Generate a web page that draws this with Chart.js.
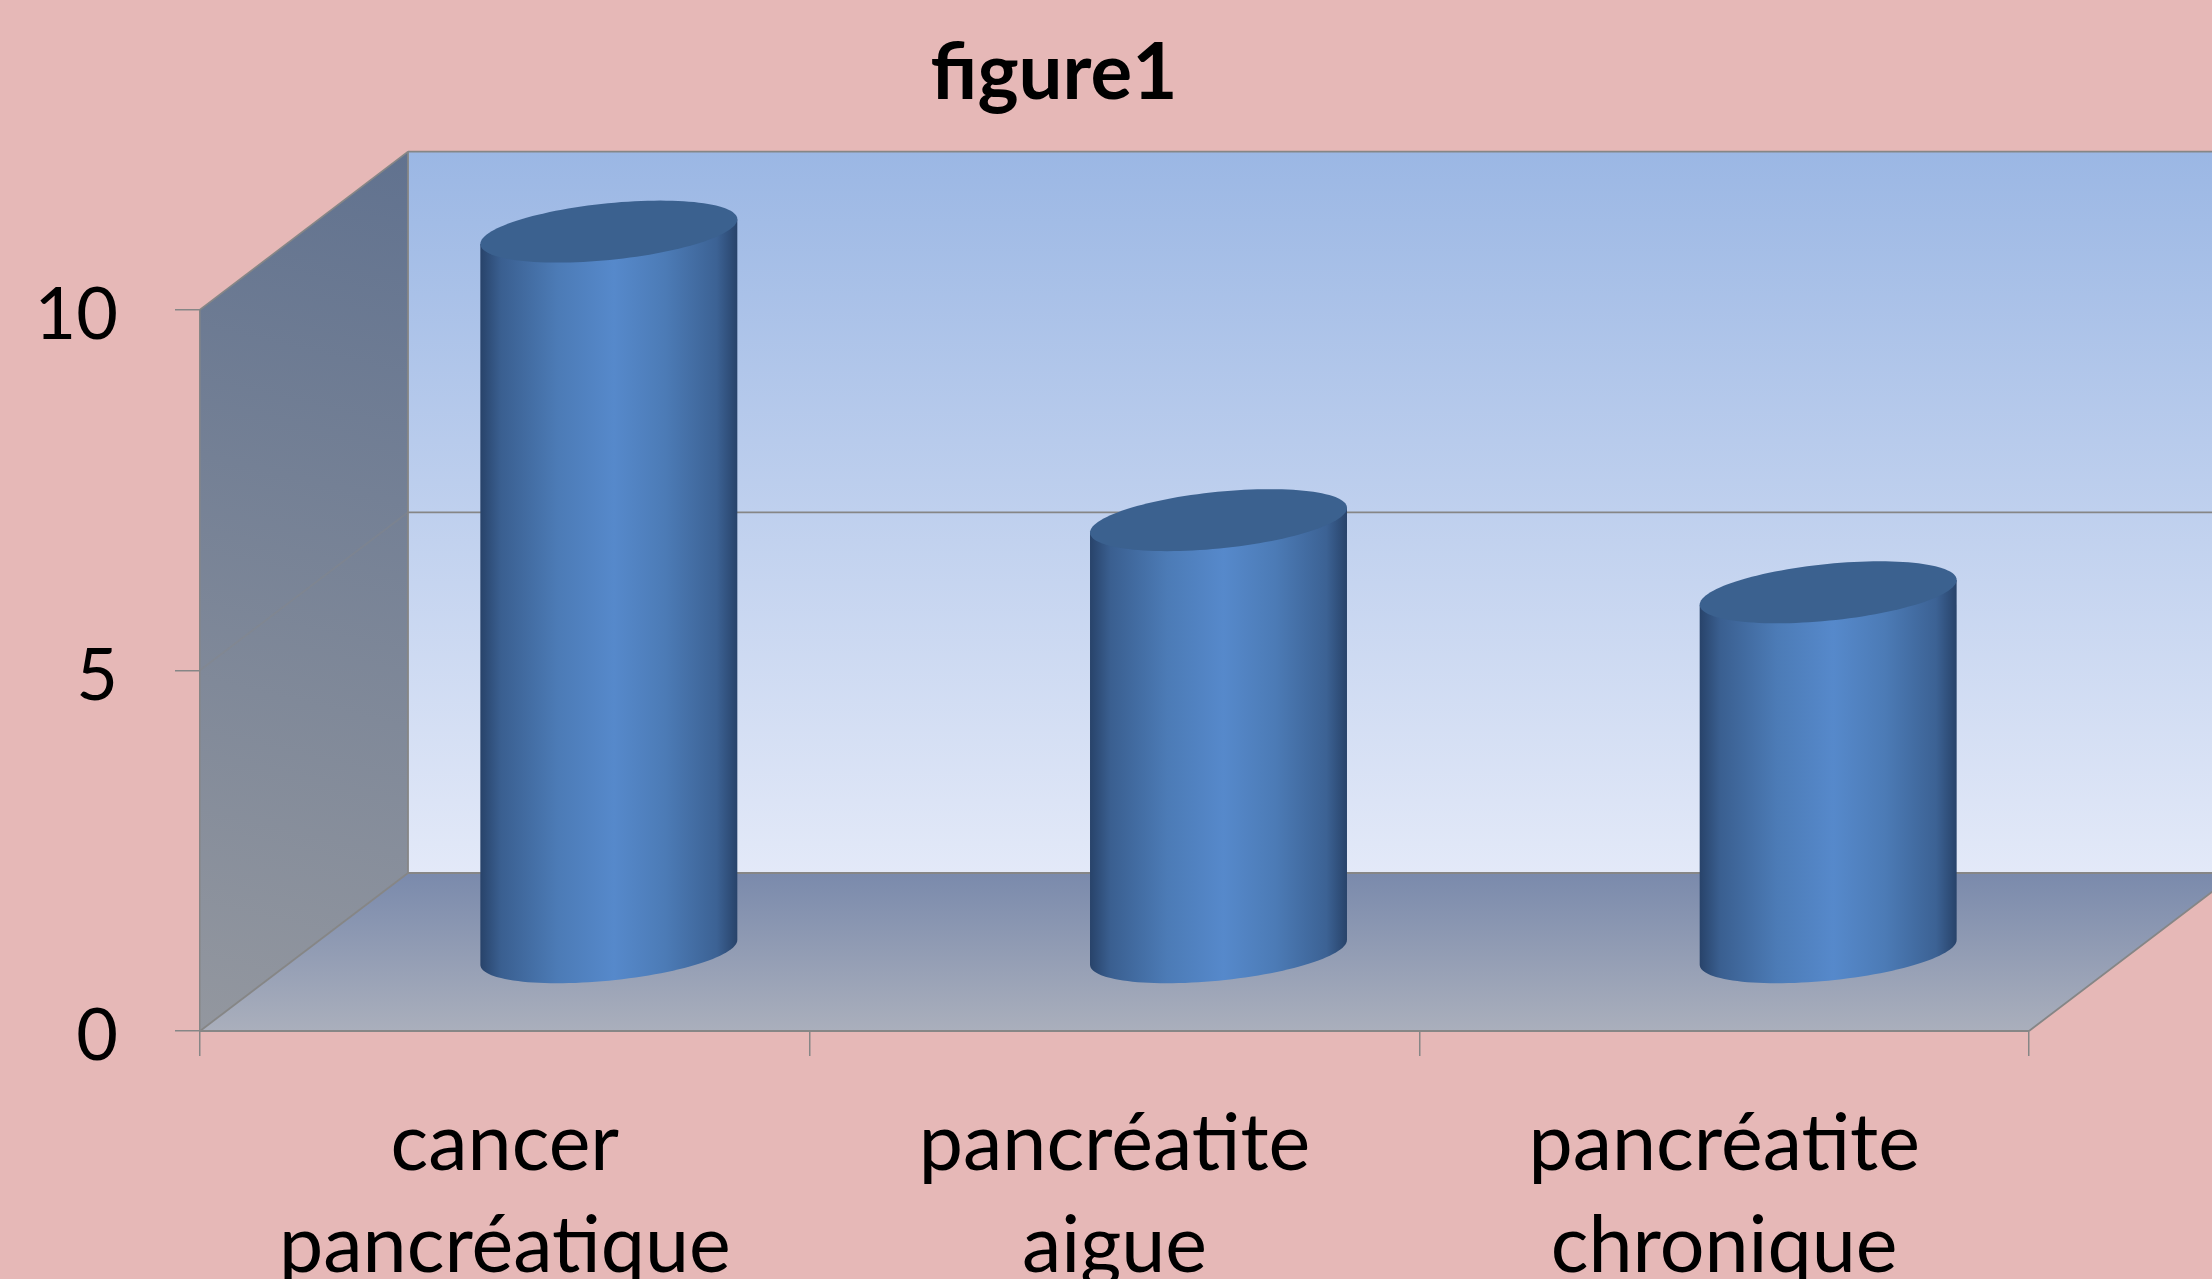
<!DOCTYPE html>
<html lang="fr">
<head>
    <meta charset="UTF-8">
    <title>figure1</title>
    <script src="https://cdn.jsdelivr.net/npm/chart.js"></script>
    <style>
        html, body { margin: 0; padding: 0; background: #e6b8b7; overflow: hidden; }
        canvas { display: block; }
    </style>
</head>
<body>
<canvas id="myChart" width="2212" height="1279"></canvas>
<script>
    const chartTitle = 'figure1';
    const categories = [['cancer', 'pancréatique'], ['pancréatite', 'aigue'], ['pancréatite', 'chronique']];
    const values = [10, 6, 5];
    const yMin = 0;
    const yMax = 10;
    const yStep = 5;

    const lineColor = '#868686';
    const fontName = 'Lato, "Open Sans", sans-serif';

    // fake 3d: how far the back wall sits from the front of the box
    const depthX = 208;
    const depthY = 158;

    function verticalGradient(ctx, y1, y2, c1, c2) {
        const g = ctx.createLinearGradient(0, y1, 0, y2);
        g.addColorStop(0, c1);
        g.addColorStop(1, c2);
        return g;
    }

    function fillPoly(ctx, pts, fill) {
        ctx.beginPath();
        pts.forEach((p, i) => i ? ctx.lineTo(p[0], p[1]) : ctx.moveTo(p[0], p[1]));
        ctx.closePath();
        ctx.fillStyle = fill;
        ctx.fill();
    }

    const box3d = {
        id: 'box3d',
        afterLayout(chart) {
            // the left padding only centres the title, tick labels may use that space
            chart.scales.y.left = 0;
        },
        beforeDraw(chart) {
            const ctx = chart.ctx;
            const x = chart.scales.x;
            const y = chart.scales.y;
            const left = x.left;
            const right = x.right;
            const top = y.getPixelForValue(yMax);
            const bottom = y.getPixelForValue(yMin);

            // value labels sit a little under their tick in the original
            y.getLabelItems().forEach(item => { item.options.translation[1] += 6; });

            ctx.save();
            // back wall
            fillPoly(ctx, [[left + depthX, top - depthY], [right + depthX, top - depthY],
                [right + depthX, bottom - depthY], [left + depthX, bottom - depthY]],
                verticalGradient(ctx, top - depthY, bottom - depthY, '#9bb7e4', '#e3e9f8'));
            // side wall
            const side = ctx.createLinearGradient(left + depthX, top - depthY, left, bottom);
            side.addColorStop(0, '#61728f');
            side.addColorStop(1, '#93979f');
            fillPoly(ctx, [[left, top], [left + depthX, top - depthY],
                [left + depthX, bottom - depthY], [left, bottom]], side);
            // floor
            fillPoly(ctx, [[left, bottom], [left + depthX, bottom - depthY],
                [right + depthX, bottom - depthY], [right, bottom]],
                verticalGradient(ctx, bottom - depthY, bottom, '#7a8aac', '#aaafbc'));

            // grid lines run along the side wall then across the back
            ctx.strokeStyle = lineColor;
            ctx.lineWidth = 1.8;
            y.ticks.forEach(t => {
                const py = y.getPixelForValue(t.value);
                const inner = t.value !== yMin && t.value !== yMax;
                // the inner ones hardly show on the grey side wall
                ctx.globalAlpha = inner ? 0.35 : 1;
                ctx.beginPath();
                ctx.moveTo(left, py);
                ctx.lineTo(left + depthX, py - depthY);
                ctx.stroke();
                ctx.globalAlpha = 1;
                ctx.beginPath();
                ctx.moveTo(left + depthX, py - depthY);
                ctx.lineTo(right + depthX, py - depthY);
                ctx.stroke();
            });
            ctx.beginPath();
            ctx.moveTo(left + depthX, top - depthY);
            ctx.lineTo(left + depthX, bottom - depthY);
            ctx.moveTo(right, bottom);
            ctx.lineTo(right + depthX, bottom - depthY);
            ctx.stroke();
            ctx.restore();
        },
        afterDatasetsDraw(chart) {
            const ctx = chart.ctx;
            chart.getDatasetMeta(0).data.forEach(bar => {
                const cx = bar.x + depthX / 2;
                const topY = bar.y - depthY / 2 + 1;
                const baseY = bar.base - depthY / 2 + 1;
                const halfW = bar.width / 2;
                // slanted circle: a is the front axis, (dp, dq) the depth axis
                const dp = halfW * 0.4;
                const dq = 31;
                const a = Math.sqrt(halfW * halfW - dp * dp);
                const tL = Math.atan2(-dp, -a);
                const edgeDy = dq * dp / halfW;

                const grad = ctx.createLinearGradient(cx - halfW, 0, cx + halfW, 0);
                grad.addColorStop(0, '#28436a');
                grad.addColorStop(0.08, '#3a5f90');
                grad.addColorStop(0.3, '#4c7bb6');
                grad.addColorStop(0.52, '#5689cb');
                grad.addColorStop(0.72, '#4c7bb6');
                grad.addColorStop(0.92, '#3c6294');
                grad.addColorStop(1, '#28436a');

                const ptAt = (t, yc) => [cx + a * Math.cos(t) + dp * Math.sin(t), yc - dq * Math.sin(t)];

                ctx.save();
                // body, going round the lower half of the base
                ctx.beginPath();
                ctx.moveTo(cx - halfW, topY + edgeDy);
                ctx.lineTo(cx - halfW, baseY + edgeDy);
                for (let i = 0; i <= 60; i++) {
                    const t = tL + Math.PI * i / 60;
                    const p = ptAt(t, baseY);
                    ctx.lineTo(p[0], p[1]);
                }
                ctx.lineTo(cx + halfW, topY - edgeDy);
                ctx.closePath();
                ctx.fillStyle = grad;
                ctx.fill();

                // lid
                ctx.beginPath();
                for (let i = 0; i <= 120; i++) {
                    const p = ptAt(Math.PI * i / 60, topY);
                    i ? ctx.lineTo(p[0], p[1]) : ctx.moveTo(p[0], p[1]);
                }
                ctx.closePath();
                ctx.fillStyle = '#3b618f';
                ctx.fill();
                ctx.restore();
            });
        }
    };

    const setting = {
        type: 'bar',
        data: {
            labels: categories,
            datasets: [{
                label: chartTitle,
                data: values,
                backgroundColor: 'rgba(0,0,0,0)',
                barPercentage: 0.4215,
                categoryPercentage: 1
            }]
        },
        options: {
            responsive: false,
            animation: false,
            layout: { padding: { left: 79, right: 183, top: 0, bottom: 0 } },
            plugins: {
                legend: { display: false },
                tooltip: { enabled: false },
                title: {
                    display: true,
                    text: chartTitle,
                    color: '#000',
                    font: { family: fontName, size: 78, weight: 'bold', lineHeight: 1.2 },
                    padding: { top: 27, bottom: 189 }
                }
            },
            scales: {
                x: {
                    grid: { drawOnChartArea: false, color: lineColor, lineWidth: 1.5, tickLength: 25 },
                    border: { color: lineColor, width: 2 },
                    ticks: {
                        color: '#000',
                        padding: 38,
                        maxRotation: 0,
                        autoSkip: false,
                        font: { family: fontName, size: 79, lineHeight: 1.29 }
                    },
                    afterFit(scale) { scale.height = 248; }
                },
                y: {
                    min: yMin,
                    max: yMax,
                    grid: { drawOnChartArea: false, color: lineColor, lineWidth: 1.5, tickLength: 25 },
                    border: { color: lineColor, width: 1.5 },
                    ticks: {
                        stepSize: yStep,
                        color: '#000',
                        padding: 57,
                        font: { family: fontName, size: 72 }
                    },
                    afterFit(scale) { scale.width = 121; }
                }
            }
        },
        plugins: [box3d]
    };

    new Chart(document.getElementById('myChart'), setting);
</script>
</body>
</html>
